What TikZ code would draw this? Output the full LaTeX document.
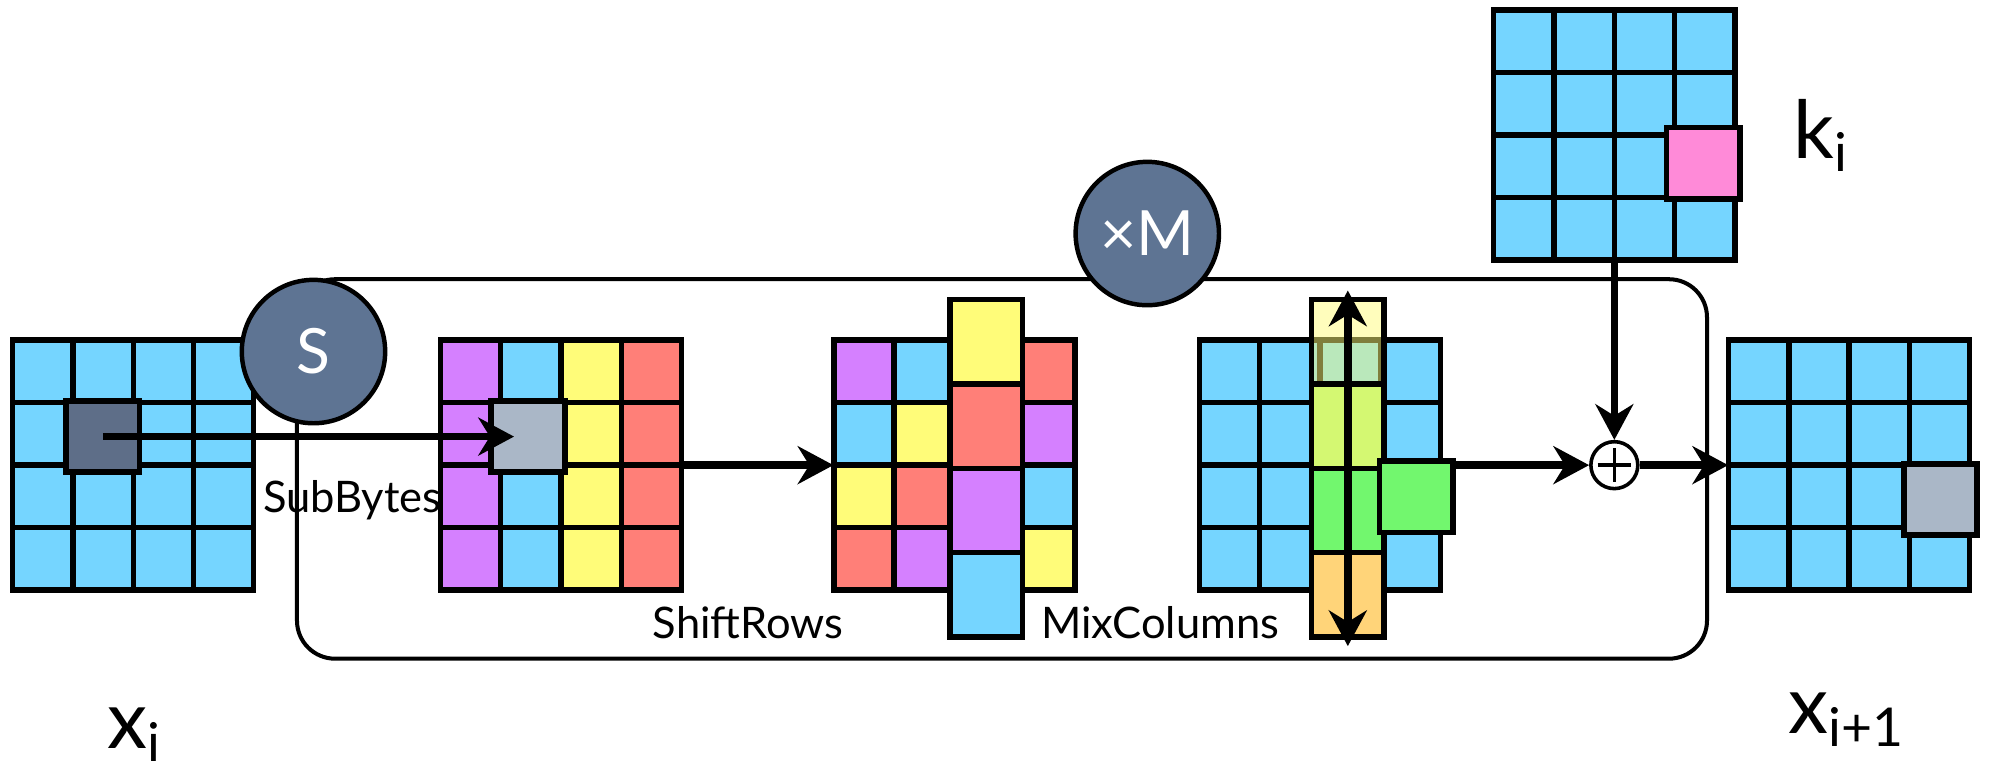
\documentclass[tikz,border=0pt]{standalone}
\usepackage{fontspec}
\setmainfont{Lato}
\usetikzlibrary{arrows.meta, positioning}

\definecolor{cellblue}{HTML}{75D5FF}
\definecolor{cellpurple}{HTML}{D580FF}
\definecolor{cellyellow}{HTML}{FFFC79}
\definecolor{cellred}{HTML}{FF7F78}
\definecolor{cellgreen}{HTML}{72F76E}
\definecolor{celllime}{HTML}{D4F872}
\definecolor{cellorange}{HTML}{FFD479}
\definecolor{cellpink}{HTML}{FF8AD8}
\definecolor{celldark}{HTML}{5E6E88}
\definecolor{cellgrey}{HTML}{AAB7C7}
\definecolor{opblue}{HTML}{5E7493}

\newcommand{\idx}[1]{\raisebox{-0.16em}{\fontsize{24}{24}\selectfont #1}}

\tikzset{
  cell/.style={draw, line width=2.4pt, fill=cellblue, minimum width=0.95cm, minimum height=0.985cm, inner sep=0pt},
  tallcell/.style={draw, line width=2.4pt, minimum width=1.14cm, minimum height=1.33cm, inner sep=0pt},
  hicell/.style={draw, line width=2.6pt, minimum width=1.16cm, minimum height=1.12cm, inner sep=0pt},
  gridbox/.style={minimum width=3.8cm, minimum height=3.94cm, inner sep=0pt},
  op/.style={circle, draw, line width=2pt, fill=opblue, minimum size=2.26cm, inner sep=0pt,
    text=white, font=\fontsize{28}{30}\selectfont},
  xorop/.style={circle, draw, line width=1.6pt, fill=white, minimum size=0.74cm, inner sep=0pt,
    path picture={\draw[line width=1.6pt]
      ([yshift=-3pt]path picture bounding box.north) -- ([yshift=3pt]path picture bounding box.south)
      ([xshift=3pt]path picture bounding box.west) -- ([xshift=-3pt]path picture bounding box.east);}},
  frame/.style={line width=1.8pt, rounded corners=0.6cm},
  arrow/.style={line width=3.4pt, -{Stealth[length=16pt, width=17pt]}},
  dblarrow/.style={line width=3.4pt, {Stealth[length=16pt, width=17pt]}-{Stealth[length=16pt, width=17pt]}},
  steplabel/.style={anchor=base west, inner sep=0pt, font=\fontsize{19.5}{24}\selectfont},
  statelabel/.style={anchor=base west, inner sep=0pt, font=\fontsize{36}{40}\selectfont}
}

\begin{document}
\begin{tikzpicture}[x=0.02cm, y=-0.02cm]
    \useasboundingbox (0,0) rectangle (1568,609);

    % round box
    \draw[frame] (234,220) rectangle (1345,519);

    % state x_i
    \node[gridbox] (xin) at (105,366.5) {};
    \begin{scope}[shift={(10,268)}]
        \foreach \r in {0,...,3}
            \foreach \c in {0,...,3}
                \node[cell] (xin-\r-\c) at ({47.5*(\c+0.5)}, {49.25*(\r+0.5)}) {};
    \end{scope}
    \node[hicell, fill=celldark] (subin) at (81,344) {};

    % after SubBytes
    \node[gridbox] (sub) at (442,366.5) {};
    \begin{scope}[shift={(347,268)}]
        \foreach \c/\col in {0/cellpurple, 1/cellblue, 2/cellyellow, 3/cellred}
            \foreach \r in {0,...,3}
                \node[cell, fill=\col] (sub-\r-\c) at ({47.5*(\c+0.5)}, {49.25*(\r+0.5)}) {};
    \end{scope}
    \node[hicell, fill=cellgrey] (subout) at (416,344) {};

    % after ShiftRows
    \node[gridbox] (shift) at (752,366.5) {};
    \begin{scope}[shift={(657,268)}]
        \foreach \r/\ca/\cb/\cd in {0/cellpurple/cellblue/cellred, 1/cellblue/cellyellow/cellpurple,
                                    2/cellyellow/cellred/cellblue, 3/cellred/cellpurple/cellyellow}{
            \node[cell, fill=\ca] (shift-\r-0) at (23.75, {49.25*(\r+0.5)}) {};
            \node[cell, fill=\cb] (shift-\r-1) at (71.25, {49.25*(\r+0.5)}) {};
            \node[cell, fill=\cd] (shift-\r-3) at (166.25, {49.25*(\r+0.5)}) {};
        }
    \end{scope}
    \foreach \r/\col in {0/cellyellow, 1/cellred, 2/cellpurple, 3/cellblue}
        \node[tallcell, fill=\col] (shiftcol-\r) at (777, {236+66.5*(\r+0.5)}) {};

    % after MixColumns
    \node[gridbox] (mix) at (1040,366.5) {};
    \begin{scope}[shift={(945,268)}]
        \foreach \r in {0,...,3}
            \foreach \c in {0,...,3}
                \node[cell] (mix-\r-\c) at ({47.5*(\c+0.5)}, {49.25*(\r+0.5)}) {};
    \end{scope}
    \node[tallcell, fill=cellyellow, fill opacity=0.5] (mixcol-0) at (1062, 269.25) {};
    \foreach \r/\col in {1/celllime, 2/cellgreen, 3/cellorange}
        \node[tallcell, fill=\col] (mixcol-\r) at (1062, {236+66.5*(\r+0.5)}) {};
    \node[hicell, fill=cellgreen] (mixout) at (1116,391.5) {};

    % round key
    \node[gridbox] (rkey) at (1272,106.5) {};
    \begin{scope}[shift={(1177,8)}]
        \foreach \r in {0,...,3}
            \foreach \c in {0,...,3}
                \node[cell] (rkey-\r-\c) at ({47.5*(\c+0.5)}, {49.25*(\r+0.5)}) {};
    \end{scope}
    \node[hicell, fill=cellpink] (keybyte) at (1342,128.5) {};

    % state x_{i+1}
    \node[gridbox] (xout) at (1457,366.5) {};
    \begin{scope}[shift={(1362,268)}]
        \foreach \r in {0,...,3}
            \foreach \c in {0,...,3}
                \node[cell] (xout-\r-\c) at ({47.5*(\c+0.5)}, {49.25*(\r+0.5)}) {};
    \end{scope}
    \node[hicell, fill=cellgrey] (outbyte) at (1529,393.5) {};

    \node[xorop] (xor) at (1272,366.5) {};

    % arrows
    \draw[arrow] (subin.center) -- ([xshift=-0.22cm]subout.center);
    \draw[arrow] (sub.east) -- (shift.west);
    \draw[dblarrow] ([yshift=0.1cm]mixcol-0.north) -- ([yshift=-0.1cm]mixcol-3.south);
    \draw[arrow] (mixout.east |- xor.west) -- (xor.west);
    \draw[arrow] (rkey.south) -- (xor.north);
    \draw[arrow] (xor.east) -- (xout.west);

    \node[op] (sbox) at (247,277) {S};
    \node[op] (mul) at (904,184) {×M};

    % labels
    \node[steplabel] (subbytes) at (207,404) {SubBytes};
    \node[steplabel] (shiftrows) at (514,503) {ShiftRows};
    \node[steplabel] (mixcols) at (820,503) {MixColumns};
    \node[statelabel] (xinlabel) at (84,590) {x\idx{i}};
    \node[statelabel] (xoutlabel) at (1409,578) {x\idx{i+1}};
    \node[statelabel] (keylabel) at (1413,125) {k\idx{i}};

\end{tikzpicture}
\end{document}
